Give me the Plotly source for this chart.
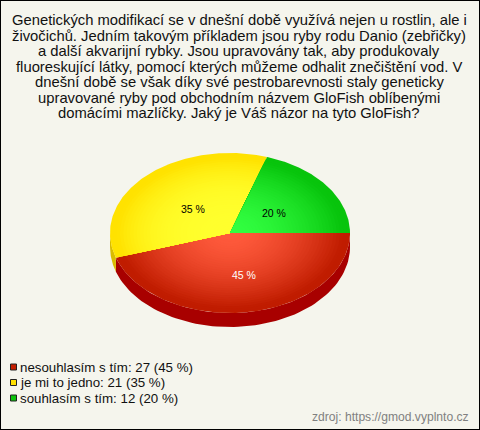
import numpy as np
import plotly.graph_objects as go

title_lines = [
    "Genetických modifikací se v dnešní době využívá nejen u rostlin, ale i",
    "živočichů. Jedním takovým příkladem jsou ryby rodu Danio (zebřičky)",
    "a další akvarijní rybky. Jsou upravovány tak, aby produkovaly",
    "fluoreskující látky, pomocí kterých můžeme odhalit znečištění vod. V",
    "dnešní době se však díky své pestrobarevnosti staly geneticky",
    "upravované ryby pod obchodním názvem GloFish oblíbenými",
    "domácími mazlíčky. Jaký je Váš názor na tyto GloFish?",
]
categories = ["nesouhlasím s tím", "je mi to jedno", "souhlasím s tím"]
counts = [27, 21, 12]
percents = [45, 35, 20]
source = "zdroj: https://gmod.vyplnto.cz"

center_colors = [(255, 90, 60), (255, 255, 45), (50, 255, 65)]
edge_colors = [(192, 28, 0), (255, 226, 0), (8, 196, 12)]
gradient_power = [1.7, 3.2, 1.7]
side_colors = ["#A80000", "#D9BC00", "#089000"]
swatch_colors = ["#C41E00", "#FFE000", "#0CC40C"]
label_colors = ["white", "black", "black"]
label_fracs = [(0.77, 0.53), (0.44, 0.42), (0.45, 0.42)]

BG = "#F5F5ED"
CX, CY, RX, RY, DEPTH = 230, 233, 120, 80, 14
LEVELS = 36

fig = go.Figure()
total = sum(counts)
fractions = [c / total for c in counts]
starts = np.cumsum([0] + fractions[:-1]) * 2 * np.pi
ends = np.cumsum(fractions) * 2 * np.pi


def add_poly(xs, ys, color):
    fig.add_trace(go.Scatter(x=xs, y=ys, mode="lines", fill="toself", fillcolor=color,
                             line=dict(width=0, color=color), hoverinfo="skip", showlegend=False))


# side wall (visible lower half only)
for a0, a1, col in zip(starts, ends, side_colors):
    lo, hi = max(a0, 0), min(a1, np.pi)
    if hi <= lo:
        continue
    th = np.linspace(lo, hi, 80)
    xs = CX + RX * np.cos(th)
    ys = CY + RY * np.sin(th)
    add_poly(np.r_[xs, xs[::-1]], np.r_[ys, ys[::-1] + DEPTH], col)

# top face with stepped radial gradient
for a0, a1, c0, c1, power in zip(starts, ends, center_colors, edge_colors, gradient_power):
    th = np.linspace(a0, a1, 120)
    for k in range(LEVELS):
        t = 1 - k / LEVELS
        mix = min(1.0, t / 0.95) ** power
        rgb = [round(c0[i] + (c1[i] - c0[i]) * mix) for i in range(3)]
        col = f"rgb({rgb[0]},{rgb[1]},{rgb[2]})"
        add_poly(np.r_[CX, CX + t * RX * np.cos(th), CX],
                 np.r_[CY, CY + t * RY * np.sin(th), CY], col)

ann = []
for i, line in enumerate(title_lines):
    ann.append(dict(x=239, y=20 + i * 15.5, text=line, showarrow=False, xanchor="center", yanchor="middle",
                    font=dict(family="Liberation Sans", size=14.8, color="#111111")))
for a0, a1, p, col, (fx, fy) in zip(starts, ends, percents, label_colors, label_fracs):
    mid = (a0 + a1) / 2
    ann.append(dict(x=CX + fx * RX * np.cos(mid), y=CY + fy * RY * np.sin(mid), text=f"{p} %", showarrow=False,
                    xanchor="center", yanchor="middle",
                    font=dict(family="Liberation Sans", size=10.5, color=col)))
legend_y = [367, 382.5, 398]
for name, n, p, y in zip(categories, counts, percents, legend_y):
    ann.append(dict(x=18, y=y, text=f"{name}: {n} ({p} %)", showarrow=False, xanchor="left", yanchor="middle",
                    font=dict(family="Liberation Sans", size=13.3, color="#111111")))
ann.append(dict(x=471, y=417, text=source, showarrow=False, xanchor="right", yanchor="middle",
                font=dict(family="Liberation Sans", size=12.1, color="#808080")))

fig.add_trace(go.Scatter(x=[13.5] * 3, y=legend_y, mode="markers", hoverinfo="skip", showlegend=False,
                         marker=dict(symbol="square", size=6, color=swatch_colors,
                                     line=dict(color="#222222", width=1))))

fig.update_layout(
    width=480, height=430, autosize=False, margin=dict(l=0, r=0, t=0, b=0),
    paper_bgcolor=BG, plot_bgcolor=BG, showlegend=False, annotations=ann,
    xaxis=dict(range=[0, 480], visible=False, fixedrange=True),
    yaxis=dict(range=[430, 0], visible=False, fixedrange=True),
    shapes=[dict(type="rect", xref="paper", yref="paper", x0=0, y0=0, x1=1, y1=1,
                 line=dict(color="black", width=2), fillcolor="rgba(0,0,0,0)")],
)
html_css = "<style>html,body{margin:0;padding:0;overflow:hidden}</style>"
fig.write_html("out.html", config={"displayModeBar": False, "responsive": False},
               include_plotlyjs=True)
s = open("out.html", encoding="utf-8").read().replace("<head>", "<head>" + html_css, 1)
open("out.html", "w", encoding="utf-8").write(s)
